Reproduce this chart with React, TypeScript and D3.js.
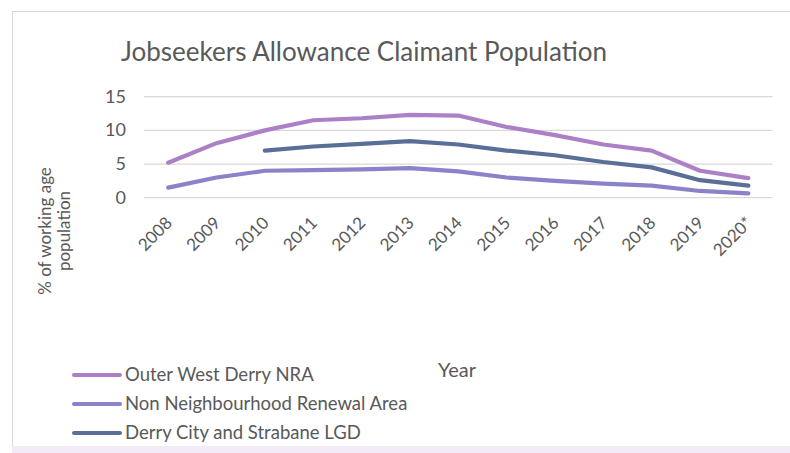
import React from 'react'
import * as d3 from 'd3'

const years = ['2008', '2009', '2010', '2011', '2012', '2013', '2014', '2015', '2016', '2017', '2018', '2019', '2020*']
const outerWest = [5.2, 8.1, 10.0, 11.5, 11.8, 12.3, 12.2, 10.5, 9.3, 7.9, 7.0, 4.0, 2.9]
const nonNra = [1.5, 3.0, 4.0, 4.1, 4.2, 4.4, 3.9, 3.0, 2.5, 2.1, 1.8, 1.0, 0.65]
const derryLgd = [null, null, 7.0, 7.6, 8.0, 8.4, 7.9, 7.0, 6.3, 5.3, 4.5, 2.6, 1.8]
const yTicks = [0, 5, 10, 15]

const series = [
  {name: 'Outer West Derry NRA', values: outerWest, color: '#ac80c6'},
  {name: 'Non Neighbourhood Renewal Area', values: nonNra, color: '#8a83c9'},
  {name: 'Derry City and Strabane LGD', values: derryLgd, color: '#5a6f98'},
]

const W = 790
const H = 453
const FONT = 'Lato, "Open Sans", sans-serif'
const GREY = '#595959'

export default function App() {
  const x = d3.scaleBand().domain(years).range([144, 772.5])
  const y = d3.scaleLinear().domain([0, 15]).range([197.7, 96.7])
  const px = (d: string) => (x(d) as number) + x.bandwidth() / 2

  const line = d3.line<number | null>()
    .defined(d => d != null)
    .x((_, i) => px(years[i]))
    .y(d => y(d as number))

  return <svg width={W} height={H} style={{position: 'absolute', left: 0, top: 0, fontFamily: FONT}}>
    <rect x={0} y={0} width={W} height={H} fill='white' />
    <rect x={12.5} y={11.5} width={W} height={437} fill='white' stroke='#d9d9d9' />
    <rect x={12} y={446} width={W} height={7} fill='#f3ecf8' />

    <text x={364} y={61} textAnchor='middle' fontSize={26} fill={GREY}>
      Jobseekers Allowance Claimant Population
    </text>

    {yTicks.map(t => <g key={t}>
      <line x1={144} x2={772.5} y1={y(t)} y2={y(t)} stroke='#d9d9d9' strokeWidth={1.3} />
      <text x={126} y={y(t) + 6} textAnchor='end' fontSize={18} fill={GREY}>{t}</text>
    </g>)}

    {years.map(d => <text key={d} fontSize={17} fill={GREY} textAnchor='end'
      transform={`translate(${px(d) + 5},${224}) rotate(-45)`}>{d}</text>)}

    <text transform='translate(51,231) rotate(-90)' textAnchor='middle' fontSize={17} fill={GREY}>
      % of working age
    </text>
    <text transform='translate(70,231) rotate(-90)' textAnchor='middle' fontSize={17} fill={GREY}>
      population
    </text>

    <text x={457} y={377} textAnchor='middle' fontSize={20} fill={GREY}>Year</text>

    {series.map(s => <path key={s.name} d={line(s.values) || ''} fill='none'
      stroke={s.color} strokeWidth={4.2} strokeLinecap='round' strokeLinejoin='round' />)}

    {series.map((s, i) => {
      const ly = 375 + i * 29
      return <g key={s.name}>
        <line x1={74} x2={120} y1={ly} y2={ly} stroke={s.color} strokeWidth={4} strokeLinecap='round' />
        <text x={125} y={ly + 6} fontSize={18.5} fill={GREY}>{s.name}</text>
      </g>
    })}
  </svg>
}
